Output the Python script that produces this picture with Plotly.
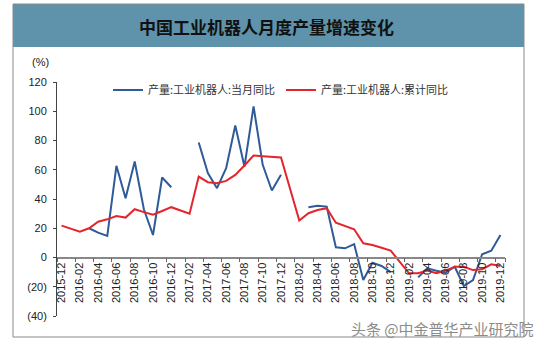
import plotly.graph_objects as go

months = ["2015-12"] + [f"{y}-{m:02d}" for y in range(2016, 2020) for m in range(1, 13)]
tick_labels = months[::2]

# 产量:工业机器人:当月同比 (%)
monthly_yoy = [None, None, None, 20.0, 17.0, 14.7, 62.7, 40.5, 65.6, 33.0, 15.4, 54.7, 48.0,
               None, None, 78.6, 57.7, 47.4, 61.1, 90.3, 62.2, 103.3, 63.4, 45.8, 56.5,
               None, None, 34.4, 35.3, 34.8, 7.0, 6.3, 9.2, -15.4, -3.6, -5.8, -10.0,
               None, None, -13.6, -7.4, -9.0, -10.4, -6.3, -19.5, -15.4, 2.2, 4.7, 15.4]
# 产量:工业机器人:累计同比 (%)
cum_yoy = [21.8, None, 17.7, 20.0, 24.5, 26.1, 28.4, 27.3, 33.0, 31.0, 29.3, 31.8, 34.4,
           None, 30.0, 55.3, 51.5, 50.8, 52.4, 56.5, 62.9, 69.7, 69.3, 69.0, 68.4,
           None, 25.3, 30.3, 32.5, 33.7, 23.8, 21.6, 19.3, 9.7, 8.6, 6.7, 4.7,
           None, -10.8, -10.8, -9.0, -10.8, -9.0, -6.3, -6.3, -8.6, -8.1, -4.7, -5.8]

y_ticks = [-40, -20, 0, 20, 40, 60, 80, 100, 120]
y_ticktext = ["(40)", "(20)", "0", "20", "40", "60", "80", "100", "120"]

W, H = 535, 344
L, R, T, B = 57, 30, 82, 28
PW, PH = W - L - R, H - T - B

def px(x):
    return (x - L) / PW

def py(y):
    return (H - B - y) / PH

fig = go.Figure()
fig.add_trace(go.Scatter(x=months, y=monthly_yoy, mode="lines", name="产量:工业机器人:当月同比",
                         line=dict(color="#2f5b98", width=2), connectgaps=False))
fig.add_trace(go.Scatter(x=months, y=cum_yoy, mode="lines", name="产量:工业机器人:累计同比",
                         line=dict(color="#e3262d", width=2), connectgaps=True))

tickfont = dict(family="Liberation Sans, Arial", size=11, color="#222")

fig.update_layout(
    width=W, height=H,
    margin=dict(l=L, r=R, t=T, b=B, pad=0),
    paper_bgcolor="white", plot_bgcolor="white",
    showlegend=True,
    legend=dict(orientation="h", x=px(108), y=py(90), xanchor="left", yanchor="middle",
                font=dict(family="Noto Sans CJK SC", size=11, color="#333"),
                bgcolor="rgba(0,0,0,0)", entrywidth=128, entrywidthmode="pixels",
                itemwidth=30, tracegroupgap=0),
    xaxis=dict(type="category", categoryorder="array", categoryarray=months,
               range=[-0.5, len(months) - 0.5],
               tickvals=tick_labels, ticktext=tick_labels, tickangle=-90,
               tickson="boundaries", ticks="outside", ticklen=4, tickcolor="#666",
               showline=True, linecolor="#888", linewidth=1.5,
               anchor="free", position=0.25, showgrid=False, zeroline=False,
               tickfont=dict(family="Liberation Sans, Arial", size=11, color="#222")),
    yaxis=dict(range=[-40, 120], tickvals=y_ticks, ticktext=y_ticktext,
               ticks="outside", ticklen=3, tickcolor="#444", ticklabelstandoff=4,
               showline=True, linecolor="#444", linewidth=1,
               showgrid=False, zeroline=False, tickfont=tickfont),
    shapes=[
        dict(type="rect", xref="paper", yref="paper", x0=px(13), x1=px(524), y0=py(4), y1=py(47),
             fillcolor="#5e93ab", line=dict(width=0), layer="below"),
        dict(type="rect", xref="paper", yref="paper", x0=px(13), x1=px(524), y0=py(4), y1=py(337),
             fillcolor="rgba(0,0,0,0)", line=dict(color="#8a8a8a", width=1), layer="below"),
    ],
    annotations=[
        dict(text="<b>中国工业机器人月度产量增速变化</b>", xref="paper", yref="paper",
             x=px(266), y=py(27), xanchor="center", yanchor="middle", showarrow=False,
             font=dict(family="Noto Sans CJK SC", size=17, color="#111")),
        dict(text="(%)", xref="paper", yref="paper", x=px(40), y=py(62),
             xanchor="center", yanchor="middle", showarrow=False, font=tickfont),
        dict(text="头条 @中金普华产业研究院", xref="paper", yref="paper", x=px(536), y=py(328),
             xanchor="right", yanchor="middle", showarrow=False,
             font=dict(family="Noto Sans CJK SC", size=15, color="#8c8c8c")),
    ],
)

fig.write_html("out.html")
